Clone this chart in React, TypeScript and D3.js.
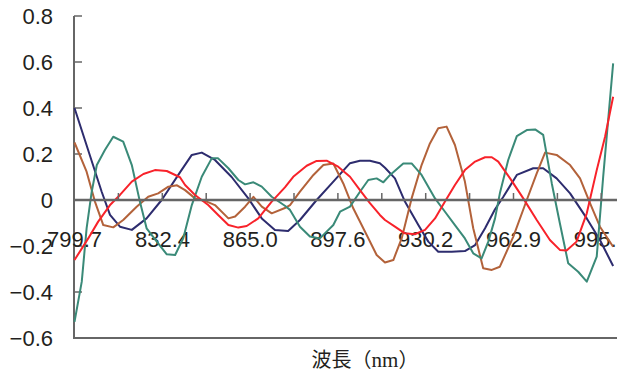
import React from 'react';
import * as d3 from 'd3';

const xTickLabels = ['799.7', '832.4', '865.0', '897.6', '930.2', '962.9', '995.5'];
const yTickValues = [0.8, 0.6, 0.4, 0.2, 0, -0.2, -0.4, -0.6];
const yTickLabels = ['0.8', '0.6', '0.4', '0.2', '0', '\u22120.2', '\u22120.4', '\u22120.6'];
const xTitleMain = '波長';
const xTitleUnit = 'nm';

const seriesNavy: [number, number][] = [
  [799.7, 0.4], [809.8, 0.036], [812.9, -0.065], [816.6, -0.116], [821.0, -0.13], [826.5, -0.08],
  [832.1, 0.0], [838.9, 0.12], [843.3, 0.196], [847.0, 0.206], [851.9, 0.174], [858.1, 0.1],
  [864.3, 0.007], [869.3, -0.08], [874.2, -0.13], [879.1, -0.135], [883.5, -0.087], [889.7, 0.0],
  [895.9, 0.08], [902.1, 0.16], [905.8, 0.171], [909.5, 0.171], [913.2, 0.16], [915.1, 0.14],
  [918.8, 0.094], [922.5, -0.007], [927.5, -0.109], [931.2, -0.181], [934.9, -0.225], [939.9, -0.225],
  [944.8, -0.222], [948.6, -0.196], [952.3, -0.123], [956.0, -0.04], [959.1, 0.014], [964.1, 0.109],
  [970.2, 0.138], [973.9, 0.138], [978.9, 0.094], [983.9, 0.029], [990.1, -0.08], [995.0, -0.174],
  [999.9, -0.287],
];

const seriesBrown: [number, number][] = [
  [799.7, 0.25], [804.2, 0.123], [807.3, -0.007], [810.4, -0.109], [814.1, -0.119], [817.8, -0.087],
  [822.8, -0.029], [827.1, 0.014], [830.8, 0.029], [834.6, 0.058], [837.8, 0.064], [840.8, 0.043],
  [844.5, 0.007], [848.2, -0.004], [851.9, -0.022], [856.9, -0.08], [859.4, -0.072], [863.1, -0.029],
  [866.2, 0.014], [869.3, -0.029], [873.0, -0.058], [877.9, -0.035], [879.8, -0.022], [883.5, 0.036],
  [888.5, 0.109], [892.2, 0.152], [895.9, 0.159], [899.6, 0.072], [903.3, -0.036], [908.3, -0.152],
  [912.0, -0.239], [915.1, -0.272], [918.2, -0.261], [921.3, -0.167], [925.0, 0.007], [928.7, 0.152],
  [931.8, 0.246], [934.9, 0.312], [938.0, 0.319], [941.1, 0.239], [944.8, 0.08], [947.9, -0.123],
  [951.6, -0.297], [954.8, -0.304], [957.8, -0.29], [962.8, -0.159], [967.8, 0.0], [971.5, 0.116],
  [974.6, 0.206], [978.9, 0.196], [983.9, 0.152], [987.6, 0.094], [991.3, -0.014], [995.0, -0.116],
  [999.9, -0.203],
];

const seriesGreen: [number, number][] = [
  [799.7, -0.53], [802.4, -0.355], [804.2, -0.123], [806.1, 0.036], [808.0, 0.152], [811.0, 0.217],
  [814.1, 0.275], [817.8, 0.254], [821.0, 0.152], [824.0, -0.007], [826.5, -0.123], [830.3, -0.181],
  [834.0, -0.236], [837.1, -0.239], [840.1, -0.167], [843.3, -0.022], [847.0, 0.101], [850.7, 0.181],
  [853.1, 0.181], [856.9, 0.138], [860.6, 0.087], [863.1, 0.068], [866.2, 0.077], [869.3, 0.058],
  [873.0, 0.014], [877.9, -0.025], [879.8, -0.043], [883.5, -0.116], [887.2, -0.159], [890.9, -0.167],
  [895.9, -0.109], [898.4, -0.051], [902.1, -0.029], [905.8, 0.036], [908.9, 0.087], [912.0, 0.094],
  [914.5, 0.077], [917.0, 0.109], [921.9, 0.159], [925.0, 0.159], [928.7, 0.109], [933.7, 0.007],
  [937.4, -0.051], [941.1, -0.109], [944.8, -0.167], [947.9, -0.232], [951.0, -0.254], [953.5, -0.181],
  [956.0, -0.08], [957.8, 0.029], [960.9, 0.174], [964.1, 0.278], [967.8, 0.304], [970.9, 0.307],
  [973.9, 0.283], [977.1, 0.072], [980.1, -0.101], [983.2, -0.275], [986.9, -0.312], [990.1, -0.355],
  [993.8, -0.246], [996.2, 0.101], [999.9, 0.594],
];

const seriesRed: [number, number][] = [
  [799.7, -0.261], [804.8, -0.167], [808.5, -0.094], [812.9, -0.022], [816.6, 0.022], [821.0, 0.08],
  [825.3, 0.113], [829.6, 0.13], [834.0, 0.126], [838.9, 0.099], [840.8, 0.065], [844.5, 0.022],
  [849.4, -0.022], [853.1, -0.065], [856.9, -0.109], [860.6, -0.12], [863.7, -0.113], [868.0, -0.08],
  [873.0, -0.007], [877.9, 0.055], [881.0, 0.101], [886.0, 0.149], [889.7, 0.17], [893.4, 0.171],
  [897.7, 0.145], [902.1, 0.101], [905.8, 0.043], [909.5, -0.014], [913.2, -0.065], [915.1, -0.087],
  [918.8, -0.116], [922.5, -0.145], [926.2, -0.149], [930.0, -0.13], [933.7, -0.08], [937.4, -0.007],
  [941.1, 0.065], [944.8, 0.13], [948.6, 0.167], [952.3, 0.186], [954.8, 0.186], [957.2, 0.167],
  [961.6, 0.094], [966.5, 0.007], [971.5, -0.087], [976.4, -0.174], [980.1, -0.217], [982.6, -0.22],
  [986.3, -0.181], [990.1, -0.058], [993.8, 0.13], [996.9, 0.275], [999.9, 0.449],
];

const seriesList = [
  { data: seriesNavy, color: '#2d2c6e' },
  { data: seriesBrown, color: '#b3623a' },
  { data: seriesGreen, color: '#3a8a78' },
  { data: seriesRed, color: '#f8222a' },
];

export default function App() {
  const W = 617;
  const H = 374;
  const xFirst = 799.7;
  const xLast = 995.5;
  const x = d3.scaleLinear().domain([xFirst, xLast]).range([74.5, 601.3]);
  const y = d3.scaleLinear().domain([-0.6, 0.8]).range([338, 16]);
  const axisColor = '#666666';
  const textColor = '#231f20';
  const font = '"Liberation Sans", Arial, sans-serif';

  const line = d3
    .line<[number, number]>()
    .x((d) => x(d[0]))
    .y((d) => y(d[1]));

  const minorTicks = d3.range(1, 13).map((k) => xFirst + (k * (xLast - xFirst)) / 12);
  const labelPositions = xTickLabels.map((l) => parseFloat(l));

  return (
    <svg
      width={W}
      height={H}
      style={{ position: 'absolute', left: 0, top: 0, background: '#fff' }}
    >
      <rect x={0} y={0} width={W} height={H} fill="#fff" />
      {/* y axis */}
      <line x1={x(xFirst) - 0.5} x2={x(xFirst) - 0.5} y1={y(0.8)} y2={y(-0.6)} stroke={axisColor} strokeWidth={2} />
      {yTickValues.map((v) => (
        <line key={'yt' + v} x1={x(xFirst) - 0.5} x2={x(xFirst) + 7.5} y1={y(v)} y2={y(v)} stroke={axisColor} strokeWidth={1.5} />
      ))}
      {yTickValues.map((v, i) => (
        <text
          key={'yl' + v}
          x={53}
          y={y(v)}
          dy="0.36em"
          textAnchor="end"
          fontFamily={font}
          fontSize={22}
          fill={textColor}
        >
          {yTickLabels[i]}
        </text>
      ))}
      {/* bottom border */}
      <line x1={x(xFirst) - 1.5} x2={W} y1={y(-0.6)} y2={y(-0.6)} stroke={axisColor} strokeWidth={2} />
      {/* x tick labels */}
      {labelPositions.map((v, i) => (
        <text
          key={'xl' + i}
          x={x(v)}
          y={247}
          textAnchor="middle"
          fontFamily={font}
          fontSize={22}
          fill={textColor}
        >
          {xTickLabels[i]}
        </text>
      ))}
      {/* data lines */}
      {seriesList.map((s, i) => (
        <path key={'s' + i} d={line(s.data) || ''} fill="none" stroke={s.color} strokeWidth={2} strokeLinejoin="round" />
      ))}
      {/* zero axis */}
      <line x1={x(xFirst) - 1.5} x2={W} y1={y(0)} y2={y(0)} stroke={axisColor} strokeWidth={2.3} />
      {minorTicks.map((v, i) => (
        <line key={'xt' + i} x1={x(v)} x2={x(v)} y1={y(0)} y2={y(0) - 7} stroke={axisColor} strokeWidth={1.5} />
      ))}
      {/* x title */}
      <text
        x={365}
        y={367}
        textAnchor="middle"
        fontFamily='"Noto Sans CJK JP", sans-serif'
        fontSize={20}
        fill={textColor}
      >
        {xTitleMain}
        <tspan>{'（'}</tspan>
        <tspan fontFamily='"Liberation Serif", "DejaVu Serif", serif' fontSize={21}>{xTitleUnit}</tspan>
        <tspan>{'）'}</tspan>
      </text>
    </svg>
  );
}
